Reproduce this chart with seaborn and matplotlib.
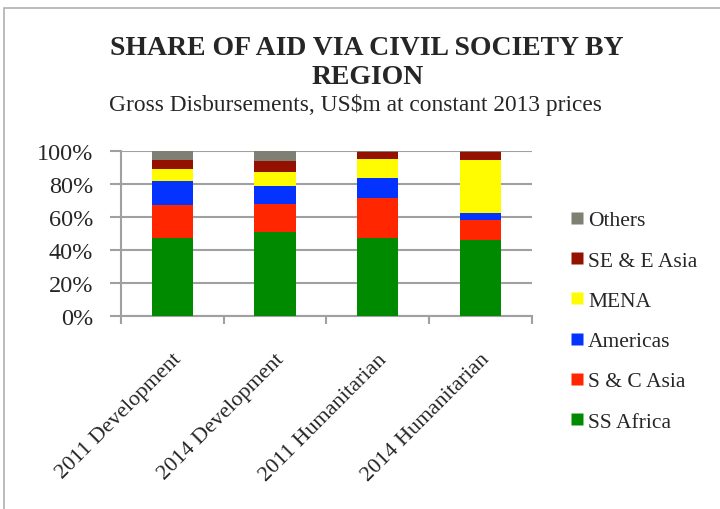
import matplotlib
matplotlib.use("Agg")
import matplotlib.pyplot as plt
import matplotlib.patches as mpatches
from matplotlib.lines import Line2D
import seaborn as sns
import numpy as np

sns.set_style("white")
plt.rcParams["font.family"] = ["Liberation Serif", "DejaVu Serif"]

categories = ["2011 Development", "2014 Development", "2011 Humanitarian", "2014 Humanitarian"]
series_names = ["SS Africa", "S & C Asia", "Americas", "MENA", "SE & E Asia", "Others"]
ss_africa = [47.0, 51.0, 47.2, 46.2]
sc_asia = [20.1, 16.7, 24.4, 11.9]
americas = [14.8, 10.9, 12.1, 4.4]
mena = [7.0, 8.5, 11.1, 31.7]
se_e_asia = [5.7, 6.4, 4.6, 5.2]
others = [5.4, 6.5, 0.6, 0.6]
colors = ["#008A00", "#FF2600", "#0433FF", "#FFFB00", "#941100", "#7F7F74"]
ytick_labels = ["0%", "20%", "40%", "60%", "80%", "100%"]

series = [ss_africa, sc_asia, americas, mena, se_e_asia, others]

fig = plt.figure(figsize=(7.2, 5.1), dpi=100)
ax = fig.add_axes([0.168, 0.378, 0.5705, 0.3245])

# outer frame of the chart
fig.patches.append(mpatches.Rectangle((4 / 720, -0.01), 1.0, 1 - 9 / 510 + 0.01,
                                      transform=fig.transFigure, fill=False,
                                      edgecolor="#b0b0b0", linewidth=1.2))

bottom = np.zeros(len(categories))
for name, vals, col in zip(series_names, series, colors):
    sns.barplot(x=categories, y=vals, bottom=bottom, color=col, width=0.4,
                ax=ax, saturation=1, edgecolor="none", zorder=3, legend=False)
    bottom = bottom + np.array(vals)

ax.set_ylim(0, 100)
ax.set_xlim(-0.5, 3.5)
ax.set_yticks(np.arange(0, 101, 20))
ax.set_yticklabels(ytick_labels, fontsize=17.5)
ax.yaxis.grid(True, color="#a0a0a0", linewidth=1.5, zorder=0)
ax.set_axisbelow(True)
ax.tick_params(axis="y", length=8, width=1.5, color="#a0a0a0", pad=12, direction="out", left=True)

ax.set_xticks(range(len(categories)))
ax.set_xticklabels(categories, fontsize=16, rotation=45, ha="right", rotation_mode="anchor")
ax.tick_params(axis="x", which="major", length=0, pad=24)
ax.set_xticks(np.arange(-0.5, 3.6, 1.0), minor=True)
ax.tick_params(axis="x", which="minor", length=6, width=1.5, color="#a0a0a0", direction="out", bottom=True)
ax.set_xlabel("")
ax.set_ylabel("")

for side in ["top", "right"]:
    ax.spines[side].set_visible(False)
for side in ["left", "bottom"]:
    ax.spines[side].set_color("#a0a0a0")
    ax.spines[side].set_linewidth(1.5)

handles = [Line2D([0], [0], marker="s", linestyle="none", markersize=8,
                  markerfacecolor=c, markeredgecolor="none") for c in colors]
leg = fig.legend(handles[::-1], series_names[::-1], loc="upper left",
                 bbox_to_anchor=(0.790, 0.586), frameon=False, fontsize=15.5,
                 labelspacing=0.94, handlelength=0.8, handletextpad=0.1,
                 borderpad=0, borderaxespad=0)

fig.text(0.51, 0.905, "SHARE OF AID VIA CIVIL SOCIETY BY", ha="center", va="center",
         fontsize=20, fontweight="bold")
fig.text(0.51, 0.848, "REGION", ha="center", va="center", fontsize=20, fontweight="bold")
fig.text(0.494, 0.795, "Gross Disbursements, US$m at constant 2013 prices",
         ha="center", va="center", fontsize=16.8)

fig.savefig("out.png", dpi=100)
